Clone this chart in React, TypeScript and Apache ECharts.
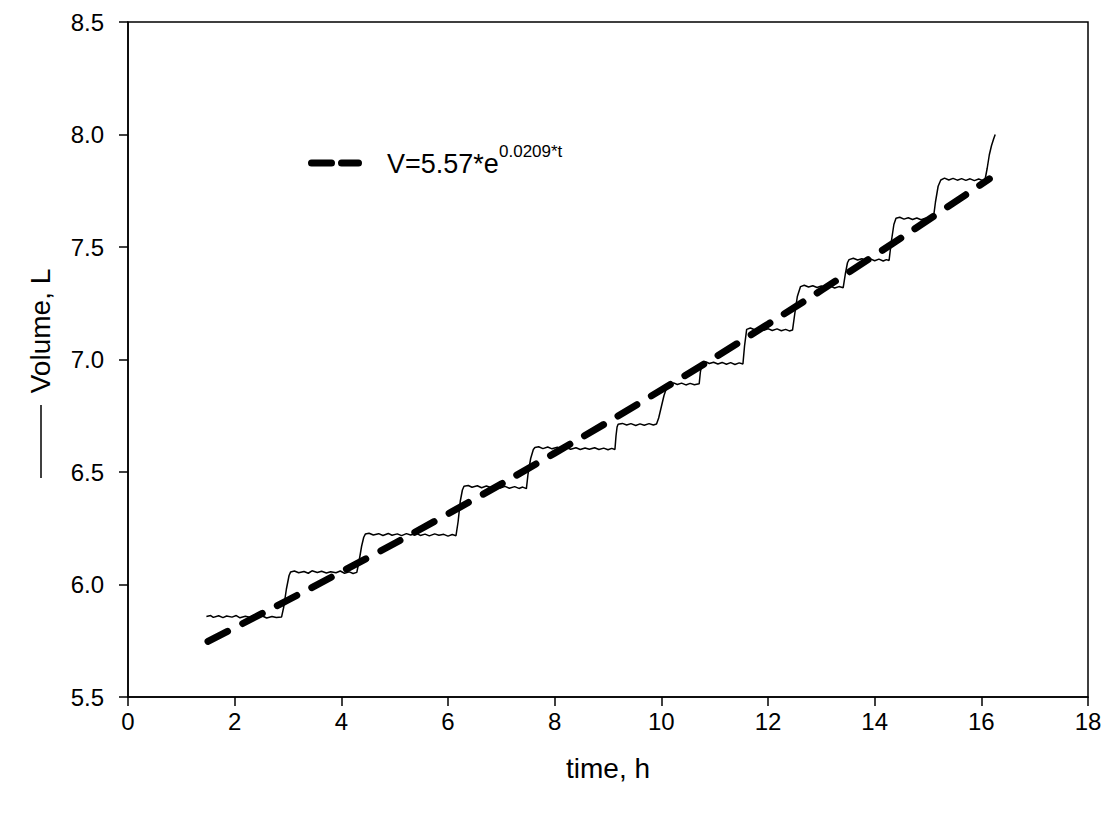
import React, { useEffect, useRef } from "react";
import * as echarts from "echarts";

const FONT = "'Liberation Sans', Arial, Helvetica, sans-serif";

const measuredVolume: [number, number][] = [
  [1.47, 5.858], [1.55, 5.862], [1.6, 5.854], [1.7, 5.861], [1.78, 5.853], [1.85, 5.86], [1.95, 5.855], [2.03, 5.862], [2.1, 5.852], [2.2, 5.859], [2.28, 5.854], [2.35, 5.863], [2.45, 5.855], [2.52, 5.86], [2.6, 5.851], [2.7, 5.858], [2.78, 5.853], [2.88, 5.856],
  [2.92, 5.9], [2.97, 5.98], [3.02, 6.04], [3.05, 6.056],
  [3.12, 6.06], [3.2, 6.052], [3.3, 6.058], [3.38, 6.05], [3.45, 6.061], [3.55, 6.053], [3.63, 6.059], [3.72, 6.051], [3.8, 6.057], [3.9, 6.052], [3.98, 6.06], [4.06, 6.05], [4.15, 6.056], [4.22, 6.049], [4.29, 6.054],
  [4.33, 6.1], [4.38, 6.17], [4.42, 6.21], [4.45, 6.224],
  [4.52, 6.228], [4.6, 6.22], [4.7, 6.226], [4.78, 6.218], [4.88, 6.227], [4.95, 6.219], [5.05, 6.225], [5.13, 6.217], [5.22, 6.226], [5.3, 6.22], [5.4, 6.228], [5.48, 6.218], [5.57, 6.224], [5.65, 6.216], [5.75, 6.225], [5.83, 6.219], [5.92, 6.223], [6.0, 6.215], [6.08, 6.222], [6.15, 6.217],
  [6.19, 6.28], [6.23, 6.37], [6.27, 6.42], [6.3, 6.437],
  [6.38, 6.44], [6.45, 6.432], [6.55, 6.439], [6.63, 6.43], [6.72, 6.438], [6.8, 6.431], [6.9, 6.437], [6.98, 6.429], [7.07, 6.436], [7.15, 6.428], [7.25, 6.435], [7.33, 6.427], [7.4, 6.433], [7.47, 6.426],
  [7.5, 6.49], [7.55, 6.56], [7.6, 6.6], [7.63, 6.609],
  [7.7, 6.612], [7.78, 6.604], [7.87, 6.611], [7.95, 6.603], [8.05, 6.61], [8.13, 6.602], [8.22, 6.609], [8.3, 6.601], [8.4, 6.608], [8.48, 6.6], [8.57, 6.607], [8.65, 6.601], [8.75, 6.608], [8.83, 6.6], [8.92, 6.606], [9.0, 6.599], [9.07, 6.605], [9.13, 6.6],
  [9.15, 6.66], [9.17, 6.7], [9.19, 6.712],
  [9.27, 6.716], [9.35, 6.709], [9.43, 6.715], [9.52, 6.707], [9.6, 6.714], [9.68, 6.708], [9.77, 6.715], [9.85, 6.709], [9.91, 6.713],
  [9.95, 6.74], [10.0, 6.79], [10.05, 6.84], [10.1, 6.875], [10.16, 6.892],
  [10.23, 6.896], [10.3, 6.889], [10.38, 6.895], [10.46, 6.887], [10.54, 6.894], [10.62, 6.888], [10.71, 6.892],
  [10.73, 6.94], [10.76, 6.984],
  [10.83, 6.99], [10.9, 6.982], [10.98, 6.988], [11.06, 6.98], [11.14, 6.987], [11.22, 6.979], [11.3, 6.986], [11.38, 6.978], [11.46, 6.985], [11.53, 6.98],
  [11.56, 7.06], [11.6, 7.134],
  [11.67, 7.14], [11.75, 7.132], [11.83, 7.138], [11.92, 7.13], [12.0, 7.137], [12.08, 7.129], [12.17, 7.136], [12.25, 7.128], [12.33, 7.134], [12.4, 7.127], [12.46, 7.131],
  [12.5, 7.2], [12.55, 7.28], [12.61, 7.324],
  [12.68, 7.33], [12.76, 7.322], [12.84, 7.328], [12.92, 7.32], [13.0, 7.327], [13.08, 7.319], [13.17, 7.326], [13.25, 7.318], [13.33, 7.324], [13.41, 7.319],
  [13.45, 7.38], [13.49, 7.43], [13.52, 7.444],
  [13.6, 7.45], [13.68, 7.442], [13.76, 7.448], [13.84, 7.44], [13.92, 7.447], [14.0, 7.439], [14.08, 7.446], [14.16, 7.438], [14.22, 7.444], [14.27, 7.44],
  [14.31, 7.52], [14.36, 7.6], [14.4, 7.628],
  [14.47, 7.632], [14.55, 7.624], [14.63, 7.63], [14.71, 7.622], [14.79, 7.629], [14.87, 7.621], [14.95, 7.628], [15.03, 7.62], [15.1, 7.626],
  [15.14, 7.7], [15.19, 7.77], [15.24, 7.798],
  [15.31, 7.806], [15.39, 7.798], [15.47, 7.805], [15.55, 7.797], [15.63, 7.804], [15.71, 7.796], [15.79, 7.803], [15.87, 7.795], [15.95, 7.802], [16.02, 7.796], [16.07, 7.8],
  [16.11, 7.85], [16.15, 7.91], [16.19, 7.95], [16.23, 7.98], [16.26, 8.0],
];

// Fitted curve V = 5.57*e^(0.0209*t)
const fitCurve: [number, number][] = [
  [1.5, 5.747], [2, 5.808], [4, 6.056], [6, 6.314], [8, 6.584],
  [10, 6.865], [12, 7.157], [14, 7.463], [16.15, 7.803],
];

const xTicks = { min: 0, max: 18, interval: 2 };
const yTicks = { min: 5.5, max: 8.5, interval: 0.5 };

const xTitle = "time, h";
const yTitle = "Volume, L";
const fitLabel = "V=5.57*e";
const fitExponent = "0.0209*t";

export default function App() {
  const ref = useRef<HTMLDivElement>(null);
  useEffect(() => {
    if (!ref.current) return;
    const chart = echarts.init(ref.current, null, { renderer: "svg" });
    chart.setOption({
      animation: false,
      backgroundColor: "#ffffff",
      grid: {
        left: 128, right: 21, top: 22, bottom: 117,
        show: true, borderColor: "#000", borderWidth: 1.5, backgroundColor: "transparent",
      },
      xAxis: {
        type: "value",
        min: xTicks.min, max: xTicks.max, interval: xTicks.interval,
        axisLine: { show: true, onZero: false, lineStyle: { color: "#000", width: 1.5 } },
        axisTick: { show: true, inside: false, length: 9, lineStyle: { color: "#000", width: 1.5 } },
        axisLabel: { color: "#000", fontSize: 24, fontFamily: FONT, margin: 12 },
        splitLine: { show: false },
      },
      yAxis: {
        type: "value",
        min: yTicks.min, max: yTicks.max, interval: yTicks.interval,
        axisLine: { show: true, onZero: false, lineStyle: { color: "#000", width: 1.5 } },
        axisTick: { show: true, inside: false, length: 9, lineStyle: { color: "#000", width: 1.5 } },
        axisLabel: {
          color: "#000", fontSize: 24, fontFamily: FONT, margin: 24,
          formatter: (v: number) => v.toFixed(1),
        },
        splitLine: { show: false },
      },
      series: [
        {
          type: "line",
          data: measuredVolume,
          showSymbol: false,
          lineStyle: { color: "#000", width: 1.5 },
          z: 2,
        },
        {
          type: "line",
          data: fitCurve,
          showSymbol: false,
          smooth: true,
          lineStyle: { color: "#000", width: 7, type: [22, 17], cap: "round" },
          z: 3,
        },
      ],
      graphic: [
        {
          type: "line",
          shape: { x1: 311.5, y1: 163, x2: 358.5, y2: 163 },
          style: { stroke: "#000", lineWidth: 7, lineDash: [20, 10], lineCap: "round" },
        },
        {
          type: "text", x: 387, y: 164,
          style: { text: fitLabel, fontSize: 27, fontFamily: FONT, fill: "#000", align: "left", verticalAlign: "middle" },
        },
        {
          type: "text", x: 499, y: 151,
          style: { text: fitExponent, fontSize: 17, fontFamily: FONT, fill: "#000", align: "left", verticalAlign: "middle" },
        },
        {
          type: "text", x: 608, y: 768,
          style: { text: xTitle, fontSize: 28, fontFamily: FONT, fill: "#000", align: "center", verticalAlign: "middle" },
        },
        {
          type: "text", x: 40, y: 331, rotation: Math.PI / 2,
          style: { text: yTitle, fontSize: 28, fontFamily: FONT, fill: "#000", align: "center", verticalAlign: "middle" },
        },
        {
          type: "line",
          shape: { x1: 41, y1: 405, x2: 41, y2: 478 },
          style: { stroke: "#000", lineWidth: 1.5 },
        },
      ],
    });
    return () => chart.dispose();
  }, []);
  return (
    <div
      ref={ref}
      style={{ position: "fixed", left: 0, top: 0, width: 1109, height: 814, background: "#fff" }}
    />
  );
}
